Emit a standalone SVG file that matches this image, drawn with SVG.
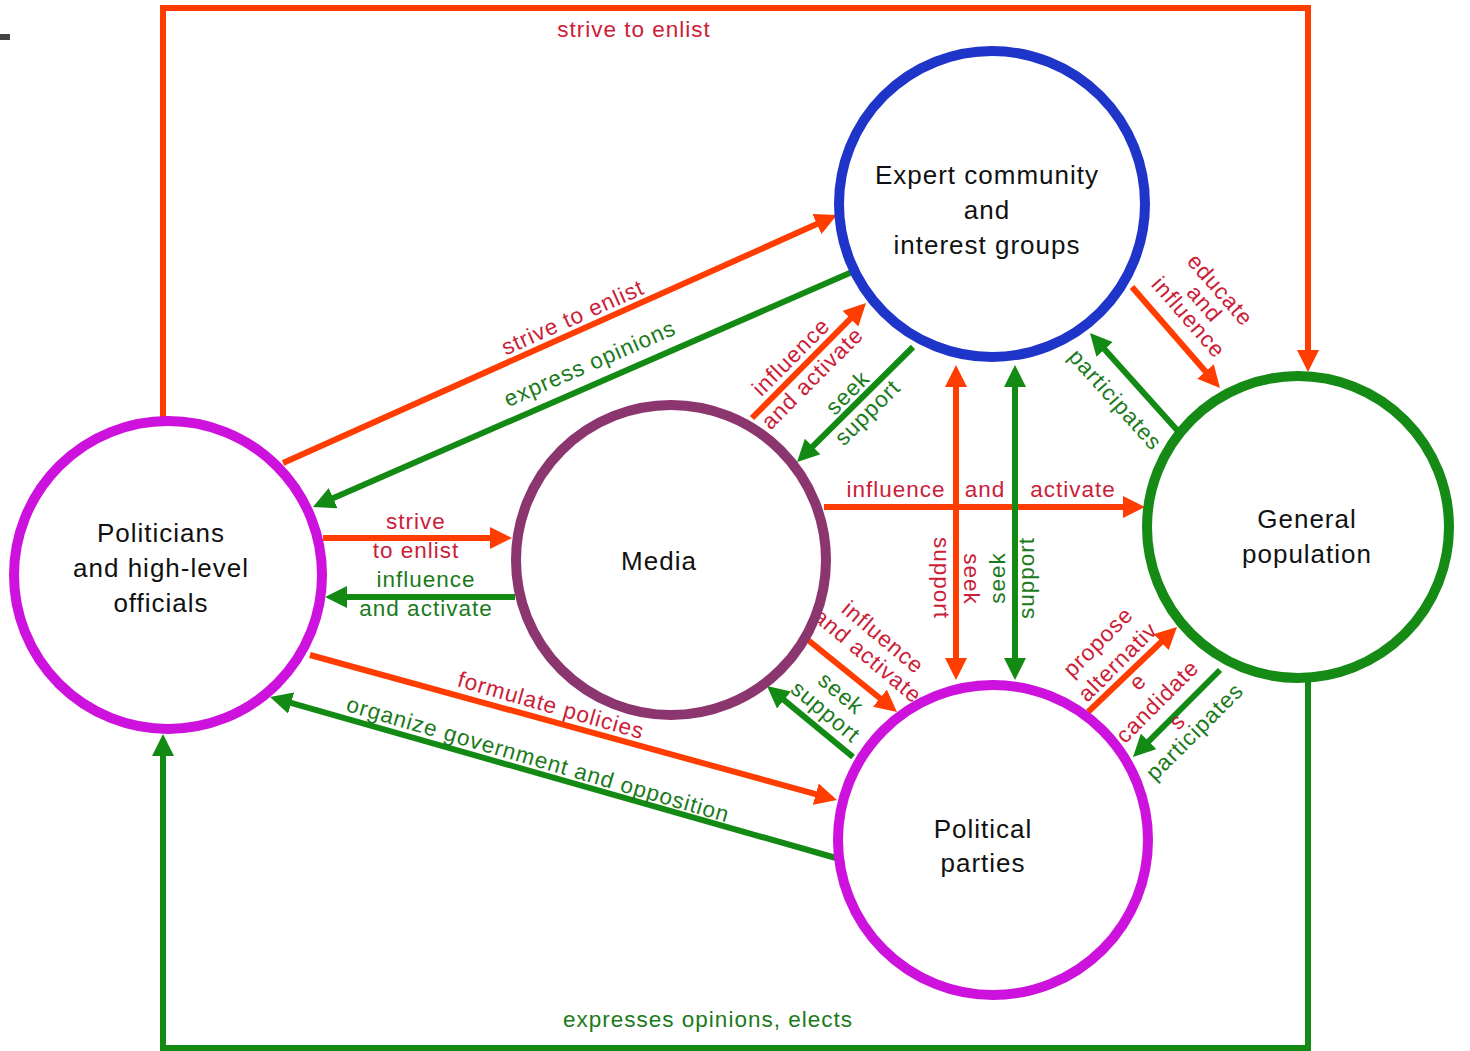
<svg xmlns="http://www.w3.org/2000/svg" width="1470" height="1051" viewBox="0 0 1470 1051">
<style>
.n{fill:none;stroke-width:10}
.t{font-family:"Liberation Sans",Arial,sans-serif;font-size:26px;letter-spacing:1px;fill:#111;text-anchor:middle}
.l{font-family:"Liberation Sans",Arial,sans-serif;font-size:22.5px;letter-spacing:1px;text-anchor:middle}
.lr{fill:#cc2038}
.lg{fill:#1b7a1b}
.r{fill:none;stroke:#ff3d00;stroke-width:6;marker-end:url(#ar)}
.g{fill:none;stroke:#138a13;stroke-width:6;marker-end:url(#ag)}
</style>
<defs>
<marker id="ar" viewBox="0 0 22 22" refX="14" refY="11" markerWidth="22" markerHeight="22" markerUnits="userSpaceOnUse" orient="auto-start-reverse"><path d="M0,0 L22,11 L0,22 z" fill="#ff3d00"/></marker>
<marker id="ag" viewBox="0 0 22 22" refX="14" refY="11" markerWidth="22" markerHeight="22" markerUnits="userSpaceOnUse" orient="auto-start-reverse"><path d="M0,0 L22,11 L0,22 z" fill="#138a13"/></marker>
</defs>
<rect width="1470" height="1051" fill="#fff"/>
<rect x="0" y="34" width="10" height="6" fill="#444"/>

<g id="connectors">
<path class="r" d="M163,420 V8 H1308 V364"/>
<path class="g" d="M1308,682 V1048 H163 V742"/>
<path class="r" d="M283,463 L829.7,218.3"/>
<path class="g" d="M852,272 L320.3,503.8"/>
<path class="r" d="M323,538 L504,538"/>
<path class="g" d="M515,597 L333,597"/>
<path class="r" d="M752,418 L860.4,308.7"/>
<path class="g" d="M913,347 L802.7,456.4"/>
<path class="r" d="M824,507 L1137,507"/>
<path class="r" d="M956,373 L956,672" style="marker-start:url(#ar)"/>
<path class="g" d="M1015,373 L1015,672" style="marker-start:url(#ag)"/>
<path class="r" d="M1132,287 L1214.7,382"/>
<path class="g" d="M1177,430 L1095.3,339"/>
<path class="r" d="M808,640 L890.8,707"/>
<path class="g" d="M853,757 L773.2,691.1"/>
<path class="r" d="M310,655 L829.3,797.9"/>
<path class="g" d="M836,858 L277.7,699.2"/>
<path class="r" d="M1088,712 L1171.2,632.5"/>
<path class="g" d="M1220,670 L1138.7,751.3"/>

<text class="l lr" x="634" y="37">strive to enlist</text>
<text class="l lg" x="708" y="1027">expresses opinions, elects</text>
<text class="l lr" transform="translate(573,318) rotate(-24)" y="7">strive to enlist</text>
<text class="l lg" transform="translate(590,364) rotate(-23.5)" y="7">express opinions</text>
<text class="l lr" x="416" y="529">strive</text>
<text class="l lr" x="416" y="558">to enlist</text>
<text class="l lg" x="426" y="587">influence</text>
<text class="l lg" x="426" y="616">and activate</text>
<g transform="translate(802,368) rotate(-45)"><text class="l lr" y="-8">influence</text><text class="l lr" y="22">and activate</text></g>
<g transform="translate(858,403) rotate(-45)"><text class="l lg" y="-7">seek</text><text class="l lg" y="21">support</text></g>
<text class="l lr" x="896" y="497">influence</text>
<text class="l lr" x="985" y="497">and</text>
<text class="l lr" x="1073" y="497">activate</text>
<text class="l lr" transform="translate(941,578) rotate(90)" y="7">support</text>
<text class="l lr" transform="translate(971,579) rotate(90)" y="7">seek</text>
<text class="l lg" transform="translate(998,578) rotate(-90)" y="7">seek</text>
<text class="l lg" transform="translate(1027,578) rotate(-90)" y="7">support</text>
<g transform="translate(1204,304) rotate(49)"><text class="l lr" y="-14">educate</text><text class="l lr" y="7">and</text><text class="l lr" y="28">influence</text></g>
<text class="l lg" transform="translate(1115,400) rotate(48)" y="7">participates</text>
<g transform="translate(875,647) rotate(40)"><text class="l lr" y="-5">influence</text><text class="l lr" y="19">and activate</text></g>
<g transform="translate(833,703) rotate(40)"><text class="l lg" y="-5">seek</text><text class="l lg" y="19">support</text></g>
<text class="l lr" transform="translate(551,706) rotate(16)" y="7">formulate policies</text>
<text class="l lg" transform="translate(538,760) rotate(16.3)" y="7">organize government and opposition</text>
<g transform="translate(1138,682) rotate(-45)"><text class="l lr" y="-49">propose</text><text class="l lr" y="-21">alternativ</text><text class="l lr" y="7">e</text><text class="l lr" y="35">candidate</text><text class="l lr" y="63">s</text></g>
<text class="l lg" transform="translate(1195,732) rotate(-45)" y="7">participates</text>
</g>

<g id="expert">
<circle class="n" cx="992" cy="204" r="153" stroke="#1f35c9"/>
<text class="t" x="987" y="184">Expert community</text>
<text class="t" x="987" y="219">and</text>
<text class="t" x="987" y="254">interest groups</text>
</g>
<g id="politicians">
<circle class="n" cx="168" cy="575" r="154" stroke="#cc12dc"/>
<text class="t" x="161" y="542">Politicians</text>
<text class="t" x="161" y="577">and high-level</text>
<text class="t" x="161" y="612">officials</text>
</g>
<g id="media">
<circle class="n" cx="671" cy="560" r="155" stroke="#8c3670"/>
<text class="t" x="659" y="570">Media</text>
</g>
<g id="general">
<circle class="n" cx="1298" cy="527" r="151" stroke="#158a15"/>
<text class="t" x="1307" y="528">General</text>
<text class="t" x="1307" y="563">population</text>
</g>
<g id="parties">
<circle class="n" cx="993" cy="840" r="155" stroke="#cc12dc"/>
<text class="t" x="983" y="838">Political</text>
<text class="t" x="983" y="872">parties</text>
</g>
</svg>
